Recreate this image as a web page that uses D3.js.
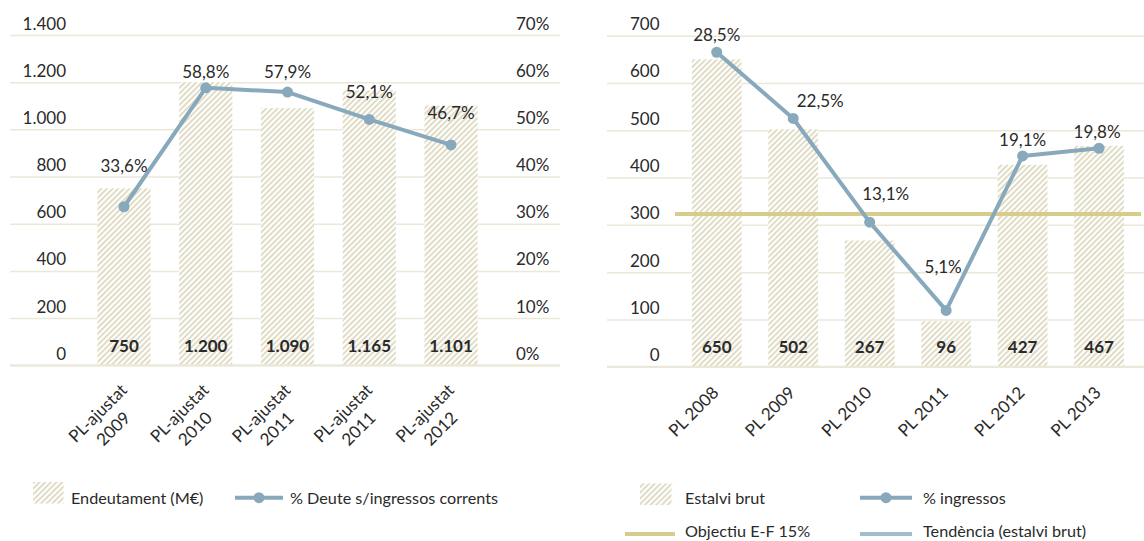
<!DOCTYPE html>
<html>
<head>
<meta charset="utf-8">
<script src="https://cdn.jsdelivr.net/npm/d3@7"></script>
<style>
  html, body { margin: 0; padding: 0; background: #fff; }
  svg text { font-family: Lato, "Open Sans", sans-serif; fill: #2a2a2a; }
</style>
</head>
<body>
<svg id="chart" width="1144" height="541"></svg>
<script>
// ---- Data: debt (left panel) ----
const debtCategories = ["PL-ajustat 2009", "PL-ajustat 2010", "PL-ajustat 2011", "PL-ajustat 2011", "PL-ajustat 2012"];
const debtValues = [750, 1200, 1090, 1165, 1101];           // Endeutament (M€)
const debtPct = [33.6, 58.8, 57.9, 52.1, 46.7];             // % Deute s/ingressos corrents
const debtTicks = [0, 200, 400, 600, 800, 1000, 1200, 1400];
const debtPctTicks = [0, 10, 20, 30, 40, 50, 60, 70];

// ---- Data: gross savings (right panel) ----
const savCategories = ["PL 2008", "PL 2009", "PL 2010", "PL 2011", "PL 2012", "PL 2013"];
const savValues = [650, 502, 267, 96, 427, 467];            // Estalvi brut
const savPct = [28.5, 22.5, 13.1, 5.1, 19.1, 19.8];         // % ingressos
const savTicks = [0, 100, 200, 300, 400, 500, 600, 700];
const savTarget = 323;                                      // Objectiu E-F 15%

// ---- Layout tweaks for the percentage labels (pixels) ----
const debtLabelLift = [35, 10, 14, 21, 26];
const savLabelLift = [11, 11, 22, 37, 10, 10];
const savLabelShift = [0, 27, 16, -3, 0, -2];

const C = {
  grid: "#ebe8d8",
  hatch: "#e0dcc5",
  line: "#88a9bc",
  trend: "#a2bece",
  target: "#d6cd8c",
  text: "#2a2a2a"
};

const loc = d3.formatLocale({ decimal: ",", thousands: ".", grouping: [3], currency: ["", "€"] });
const fmtInt = loc.format(",d");
const fmtPct = v => loc.format(".1f")(v) + "%";

const svg = d3.select("#chart");

// diagonal hatch used by the bars and legend swatches
const defs = svg.append("defs");
defs.append("pattern")
  .attr("id", "hatch")
  .attr("patternUnits", "userSpaceOnUse")
  .attr("width", 4).attr("height", 4)
  .attr("patternTransform", "rotate(45)")
  .append("rect")
  .attr("width", 2).attr("height", 4)
  .attr("fill", C.hatch);

function panel(cfg) {
  const g = svg.append("g");
  const y = d3.scaleLinear().domain(cfg.yDomain).range([cfg.y0, cfg.y1]);
  const p = d3.scaleLinear().domain(cfg.pDomain).range([cfg.y0, cfg.y1]);
  const x = d3.scaleBand().domain(d3.range(cfg.categories.length))
    .range(cfg.xRange).paddingInner(0.35).paddingOuter(0.175);

  // horizontal grid + left value axis
  const axL = g.append("g")
    .attr("transform", `translate(${cfg.gridX0},0)`)
    .call(d3.axisLeft(y).tickValues(cfg.ticks).tickSize(-(cfg.gridX1 - cfg.gridX0)).tickFormat(fmtInt));
  axL.select(".domain").remove();
  axL.selectAll(".tick line").attr("stroke", C.grid).attr("stroke-width", 1.5);
  axL.selectAll(".tick text")
    .attr("x", cfg.labelRight - cfg.gridX0).attr("dy", -6)
    .attr("text-anchor", "end")
    .style("font-size", "17px").style("font-family", "Lato, sans-serif").attr("fill", C.text);

  // optional right percentage axis
  if (cfg.pTicks) {
    const axR = g.append("g")
      .attr("transform", `translate(${cfg.pLabelLeft},0)`)
      .call(d3.axisRight(p).tickValues(cfg.pTicks).tickSize(0).tickFormat(d => d + "%"));
    axR.select(".domain").remove();
    axR.selectAll(".tick text")
      .attr("x", 0).attr("dy", -6).attr("text-anchor", "start")
      .style("font-size", "17px").style("font-family", "Lato, sans-serif").attr("fill", C.text);
  }

  // bars: white base with diagonal hatch on top
  const bars = g.append("g");
  bars.selectAll("rect.base").data(cfg.values).join("rect")
    .attr("class", "base")
    .attr("x", (d, i) => x(i)).attr("width", x.bandwidth())
    .attr("y", d => y(d)).attr("height", d => y(0) - y(d))
    .attr("fill", "#fff");
  bars.selectAll("rect.hatch").data(cfg.values).join("rect")
    .attr("class", "hatch")
    .attr("x", (d, i) => x(i)).attr("width", x.bandwidth())
    .attr("y", d => y(d)).attr("height", d => y(0) - y(d))
    .attr("fill", "url(#hatch)");

  // value labels inside the bars
  g.append("g").selectAll("text").data(cfg.values).join("text")
    .attr("x", (d, i) => x(i) + x.bandwidth() / 2)
    .attr("y", y(0) - 13.5)
    .attr("text-anchor", "middle")
    .style("font-size", "17px").style("font-weight", 700)
    .attr("fill", "#1e1e1e")
    .text(d => fmtInt(d));

  // target line
  if (cfg.target != null) {
    g.append("line")
      .attr("x1", cfg.targetX0).attr("x2", cfg.targetX1)
      .attr("y1", y(cfg.target)).attr("y2", y(cfg.target))
      .attr("stroke", C.target).attr("stroke-width", 4);
  }

  // percentage line with markers
  const cx = (d, i) => x(i) + x.bandwidth() / 2;
  g.append("path").datum(cfg.pct)
    .attr("fill", "none").attr("stroke", C.line).attr("stroke-width", 4)
    .attr("stroke-linejoin", "round")
    .attr("d", d3.line().x(cx).y(d => p(d)));
  g.append("g").selectAll("circle").data(cfg.pct).join("circle")
    .attr("cx", cx).attr("cy", d => p(d)).attr("r", 5.5).attr("fill", C.line);

  g.append("g").selectAll("text").data(cfg.pct).join("text")
    .attr("x", (d, i) => cx(d, i) + (cfg.shift ? cfg.shift[i] : 0))
    .attr("y", (d, i) => p(d) - cfg.lift[i])
    .attr("text-anchor", "middle")
    .style("font-size", "17px")
    .text(d => fmtPct(d));

  // bottom base line
  g.append("line")
    .attr("x1", cfg.gridX0).attr("x2", cfg.gridX1)
    .attr("y1", y(0)).attr("y2", y(0))
    .attr("stroke", C.grid).attr("stroke-width", 2);

  // rotated category labels
  const xl = g.append("g").selectAll("text").data(cfg.categories).join("text")
    .attr("transform", (d, i) => `translate(${x(i) + x.bandwidth() / 2 + cfg.catDx},${y(0) + cfg.catDy}) rotate(-45)`)
    .attr("text-anchor", "middle")
    .style("font-size", "17px");
  xl.each(function(d) {
    const parts = cfg.splitCat ? [d.slice(0, d.lastIndexOf(" ")), d.slice(d.lastIndexOf(" ") + 1)] : [d];
    d3.select(this).selectAll("tspan").data(parts).join("tspan")
      .attr("x", 0).attr("dy", (t, j) => j === 0 ? 0 : 22)
      .text(t => t);
  });

  return g;
}

panel({
  categories: debtCategories, values: debtValues, pct: debtPct,
  yDomain: [0, 1400], pDomain: [0, 70], ticks: debtTicks, pTicks: debtPctTicks,
  y0: 365.3, y1: 35, xRange: [83.1, 491.9],
  gridX0: 10, gridX1: 560, labelRight: 66, pLabelLeft: 516,
  lift: debtLabelLift, splitCat: true, catDx: -22, catDy: 52
});

panel({
  categories: savCategories, values: savValues, pct: savPct,
  yDomain: [0, 700], pDomain: [0, 30], ticks: savTicks,
  y0: 366.7, y1: 35.7, xRange: [678.5, 1137.3],
  gridX0: 607, gridX1: 1144, labelRight: 659.5,
  target: savTarget, targetX0: 675, targetX1: 1141,
  lift: savLabelLift, shift: savLabelShift, splitCat: false, catDx: -19, catDy: 49
});

// ---- Legends ----
const lg = svg.append("g").style("font-size", "16.2px");
function hatchSwatch(x, y, w, h) {
  lg.append("rect").attr("x", x).attr("y", y).attr("width", w).attr("height", h).attr("fill", "url(#hatch)");
}
function lineSwatch(x1, x2, y, color, dot) {
  lg.append("line").attr("x1", x1).attr("x2", x2).attr("y1", y).attr("y2", y)
    .attr("stroke", color).attr("stroke-width", 4);
  if (dot) lg.append("circle").attr("cx", (x1 + x2) / 2).attr("cy", y).attr("r", 5.5).attr("fill", color);
}
function label(x, y, t) {
  lg.append("text").attr("x", x).attr("y", y).text(t);
}

hatchSwatch(33, 482, 30.5, 21.5);
label(71, 504, "Endeutament (M€)");
lineSwatch(235, 283, 497.7, C.line, true);
label(290, 504, "% Deute s/ingressos corrents");

hatchSwatch(640, 483.5, 31.5, 21.5);
label(685, 504, "Estalvi brut");
lineSwatch(860, 912, 497.7, C.line, true);
label(923, 504, "% ingressos");

lineSwatch(625, 675, 534, C.target, false);
label(685, 537, "Objectiu E-F 15%");
lineSwatch(860, 912, 534, C.trend, false);
label(923, 537, "Tendència (estalvi brut)");
</script>
</body>
</html>
